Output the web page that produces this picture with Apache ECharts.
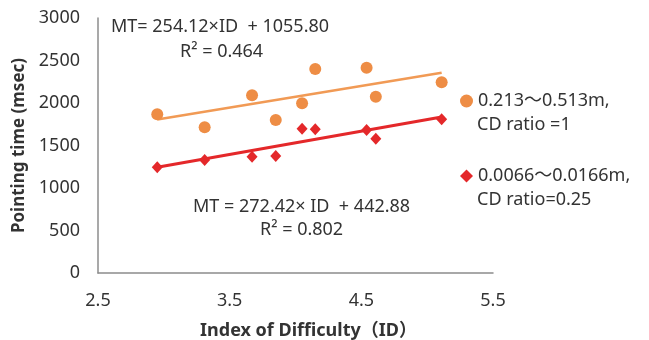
<!DOCTYPE html>
<html>
<head>
<meta charset="utf-8">
<script src="https://cdn.jsdelivr.net/npm/echarts@6/dist/echarts.min.js"></script>
<style>
html, body { margin: 0; padding: 0; background: #fff; }
#chart { width: 649px; height: 340px; }
</style>
</head>
<body>
<div id="chart"></div>
<script>
// ID values shared by both conditions
const idValues = [2.95, 3.31, 3.67, 3.85, 4.05, 4.15, 4.54, 4.61, 5.11]
// pointing time (msec), CD ratio = 1
const timeLarge = [1867, 1714, 2091, 1800, 1996, 2400, 2415, 2074, 2244]
// pointing time (msec), CD ratio = 0.25
const timeSmall = [1244, 1329, 1368, 1376, 1698, 1691, 1682, 1580, 1808]
// trend line end points
const trendLarge = [[2.95, 1805], [5.11, 2355]]
const trendSmall = [[2.95, 1245], [5.11, 1835]]
const xTicks = [2.5, 3.5, 4.5, 5.5]
const yTicks = [0, 500, 1000, 1500, 2000, 2500, 3000]
const names = ['0.213～0.513m,', '0.0066～0.0166m,']

const font = 'Noto Sans, Noto Sans CJK JP, sans-serif'
const orange = '#ee8d45'
const orangeLine = '#f19a55'
const red = '#e4282a'
const txt = '#333'

const pairs = (xs, ys) => xs.map((x, i) => [x, ys[i]])
const label = (x, y, text) => ({
  type: 'text', x: x, y: y,
  style: { text: text, font: '18px ' + font, fill: txt, align: 'left', verticalAlign: 'middle' }
})

const chart = echarts.init(document.getElementById('chart'))
chart.setOption({
  animation: false,
  grid: { left: 98, top: 18, right: 156, bottom: 67, outerBoundsMode: 'none', containLabel: false },
  xAxis: {
    type: 'value',
    min: xTicks[0],
    max: xTicks[xTicks.length - 1],
    interval: 1,
    name: 'Index of Difficulty（ID）',
    nameLocation: 'middle',
    nameGap: 49,
    nameTextStyle: { fontFamily: font, fontSize: 18, fontWeight: 'bold', color: txt, padding: [0, 0, 0, 26] },
    axisLine: { lineStyle: { color: '#8c8c8c', width: 1.5 } },
    axisTick: { show: false },
    splitLine: { show: false },
    axisLabel: { fontFamily: font, fontSize: 18, color: txt, margin: 19, formatter: v => String(v) }
  },
  yAxis: {
    type: 'value',
    min: yTicks[0],
    max: yTicks[yTicks.length - 1],
    interval: 500,
    name: 'Pointing time (msec)',
    nameLocation: 'middle',
    nameGap: 62,
    nameTextStyle: { fontFamily: font, fontSize: 17, fontWeight: 'bold', color: txt },
    axisLine: { show: true, lineStyle: { color: '#8c8c8c', width: 1.5 } },
    axisTick: { show: false },
    splitLine: { show: false },
    axisLabel: { fontFamily: font, fontSize: 18, color: txt, margin: 18, formatter: v => String(v) }
  },
  legend: {
    orient: 'vertical',
    left: 455,
    top: 87,
    itemGap: 57,
    itemWidth: 13,
    itemHeight: 13,
    data: [
      { name: names[0], icon: 'circle', itemStyle: { color: orange, opacity: 1 } },
      { name: names[1], icon: 'diamond', itemStyle: { color: red, opacity: 1 } }
    ],
    textStyle: { fontFamily: font, fontSize: 18, color: txt }
  },
  graphic: [
    label(477, 125, 'CD ratio =1'),
    label(477, 200, 'CD ratio=0.25'),
    label(111, 27, 'MT= 254.12×ID  + 1055.80'),
    label(180, 52, 'R² = 0.464'),
    label(193, 207, 'MT = 272.42× ID  + 442.88'),
    label(260, 230, 'R² = 0.802')
  ],
  series: [
    {
      name: names[0],
      type: 'scatter',
      symbol: 'circle',
      symbolSize: 12,
      itemStyle: { color: orange, opacity: 1 },
      data: pairs(idValues, timeLarge),
      z: 3
    },
    {
      name: names[1],
      type: 'scatter',
      symbol: 'diamond',
      symbolSize: [11, 12],
      itemStyle: { color: red, opacity: 1 },
      data: pairs(idValues, timeSmall),
      z: 3
    },
    {
      type: 'line',
      data: trendLarge,
      symbol: 'none',
      lineStyle: { color: orangeLine, width: 2.5 },
      z: 2
    },
    {
      type: 'line',
      data: trendSmall,
      symbol: 'none',
      lineStyle: { color: red, width: 3 },
      z: 2
    }
  ]
})
</script>
</body>
</html>
